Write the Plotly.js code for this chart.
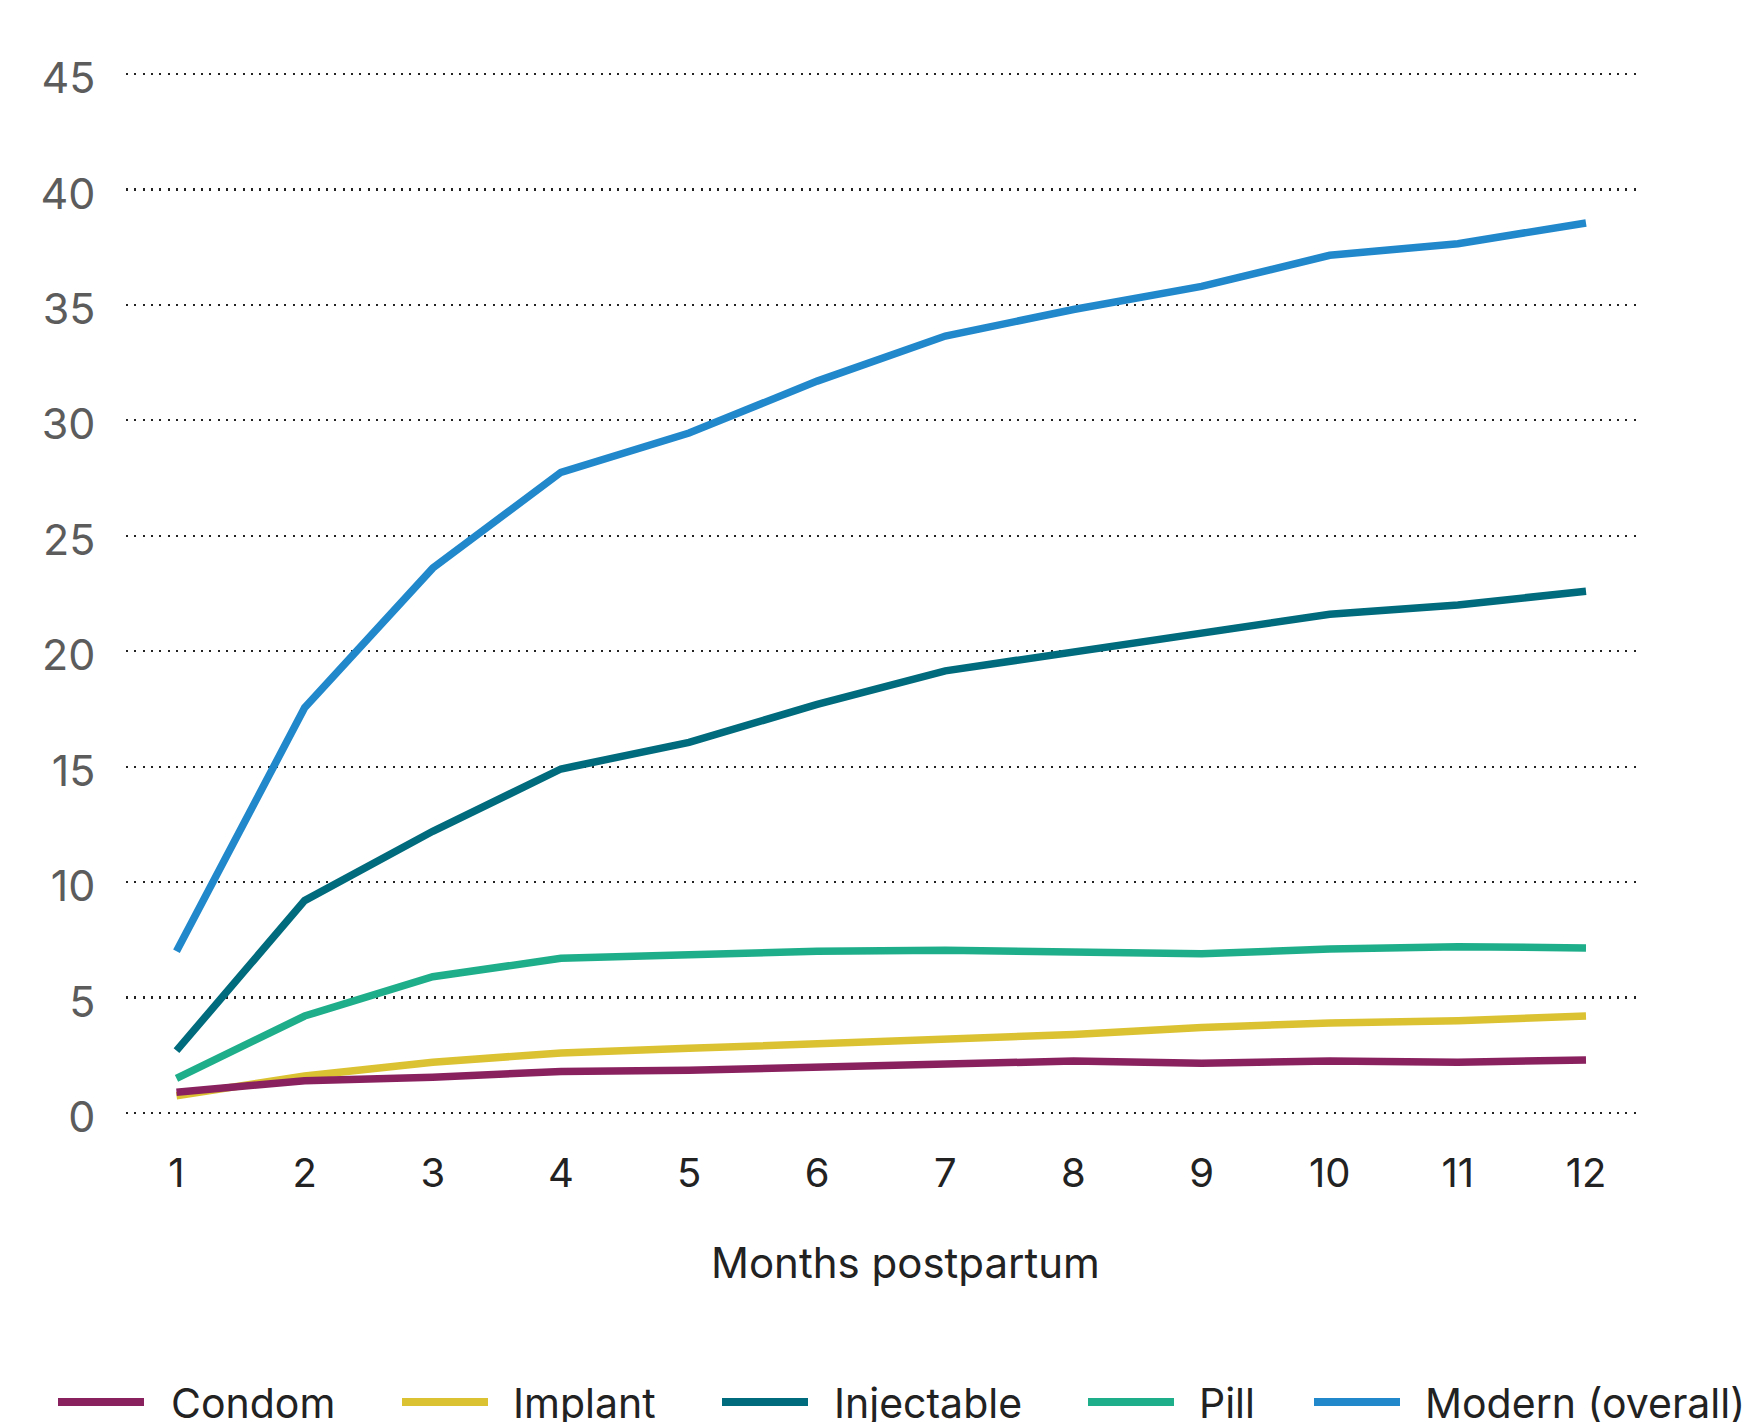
<!DOCTYPE html>
<html>
<head>
<meta charset="utf-8">
<script src="https://cdn.plot.ly/plotly-3.0.1.min.js"></script>
<style>
  html, body { margin: 0; padding: 0; background: #ffffff; }
  #chart { width: 1743px; height: 1422px; }
</style>
</head>
<body>
<div id="chart"></div>
<script>
// Months since birth
const months = [1, 2, 3, 4, 5, 6, 7, 8, 9, 10, 11, 12];
const monthLabels = ["1", "2", "3", "4", "5", "6", "7", "8", "9", "10", "11", "12"];

// Percentage of women using each method
const condom     = [0.9, 1.4, 1.55, 1.8, 1.85, 2.0, 2.15, 2.25, 2.15, 2.25, 2.2, 2.3];
const implant    = [0.75, 1.6, 2.2, 2.6, 2.8, 3.0, 3.2, 3.4, 3.7, 3.9, 4.0, 4.2];
const injectable = [2.7, 9.2, 12.2, 14.9, 16.05, 17.7, 19.15, 19.95, 20.8, 21.6, 22.0, 22.6];
const pill       = [1.5, 4.2, 5.9, 6.7, 6.85, 7.0, 7.05, 7.0, 6.9, 7.1, 7.2, 7.15];
const modern     = [7.0, 17.55, 23.6, 27.75, 29.45, 31.7, 33.65, 34.8, 35.8, 37.15, 37.65, 38.55];

const seriesNames = ["Condom", "Implant", "Injectable", "Pill", "Modern (overall)"];
const seriesValues = [condom, implant, injectable, pill, modern];

const yTicks = [0, 5, 10, 15, 20, 25, 30, 35, 40, 45];
const yTickLabels = ["0", "5", "10", "15", "20", "25", "30", "35", "40", "45"];

const xTitle = "Months postpartum";

// ---- styling ----
const colors = ["#89215f", "#dbc232", "#006b7c", "#1fae8a", "#2188cc"];
const FONT = "Inter, 'Noto Sans', Roboto, sans-serif";
const W = 1743, H = 1422;
// plot box padded by 10px above the 45 line and below the 0 line
const M = { l: 126, r: 106, t: 64, b: 299 };
const PW = W - M.l - M.r;
const PH = H - M.t - M.b;
const Y_PAD = 0.4335;
const px2x = px => (px - M.l) / PW;
const py2y = py => (H - M.b - py) / PH;

// Legend placement (pixels)
const legendRowY = 1402;
const legendSwatchLeft = [58, 402, 722, 1088, 1314];
const legendSwatchLen = 86;
const legendTextLeft = [169, 511, 832, 1197, 1423];

// Draw the later series first so Condom sits on top
const traces = [];
for (let i = seriesNames.length - 1; i >= 0; i--) {
  traces.push({
    type: "scatter",
    mode: "lines",
    name: seriesNames[i],
    x: months,
    y: seriesValues[i],
    line: { color: colors[i], width: 7.5 },
    hoverinfo: "x+y+name"
  });
}

const shapes = [];
const annotations = [];
seriesNames.forEach((name, i) => {
  shapes.push({
    type: "line", xref: "paper", yref: "paper",
    x0: px2x(legendSwatchLeft[i]), x1: px2x(legendSwatchLeft[i] + legendSwatchLen),
    y0: py2y(legendRowY), y1: py2y(legendRowY),
    line: { color: colors[i], width: 8 }
  });
  annotations.push({
    xref: "paper", yref: "paper",
    x: px2x(legendTextLeft[i]), y: py2y(legendRowY + 1),
    xanchor: "left", yanchor: "middle",
    text: name, showarrow: false,
    font: { family: FONT, size: 41, color: "#222222" }
  });
});

// Axis title
annotations.push({
  xref: "paper", yref: "paper",
  x: px2x(905), y: py2y(1262),
  xanchor: "center", yanchor: "middle",
  text: xTitle, showarrow: false,
  font: { family: FONT, size: 42, color: "#222222" }
});

const layout = {
  width: W, height: H,
  margin: M,
  paper_bgcolor: "#ffffff",
  plot_bgcolor: "#ffffff",
  showlegend: false,
  font: { family: FONT },
  xaxis: {
    range: [0.606, 12.398],
    tickmode: "array",
    tickvals: months,
    ticktext: monthLabels,
    showgrid: false,
    zeroline: false,
    showline: false,
    ticks: "outside",
    ticklen: 15,
    tickcolor: "rgba(0,0,0,0)",
    tickfont: { family: FONT, size: 40, color: "#222222" }
  },
  yaxis: {
    range: [0 - Y_PAD, 45 + Y_PAD],
    tickmode: "array",
    tickvals: yTicks,
    ticktext: yTickLabels,
    showgrid: true,
    gridcolor: "#222222",
    gridwidth: 2.3,
    griddash: "2px,6.33px",
    zeroline: false,
    showline: false,
    ticks: "outside",
    ticklen: 21,
    tickcolor: "rgba(0,0,0,0)",
    ticklabelshift: 4,
    tickfont: { family: FONT, size: 43, color: "#5c5c5c" }
  },
  shapes: shapes,
  annotations: annotations
};

Plotly.newPlot("chart", traces, layout, { displayModeBar: false, staticPlot: true });
</script>
</body>
</html>
